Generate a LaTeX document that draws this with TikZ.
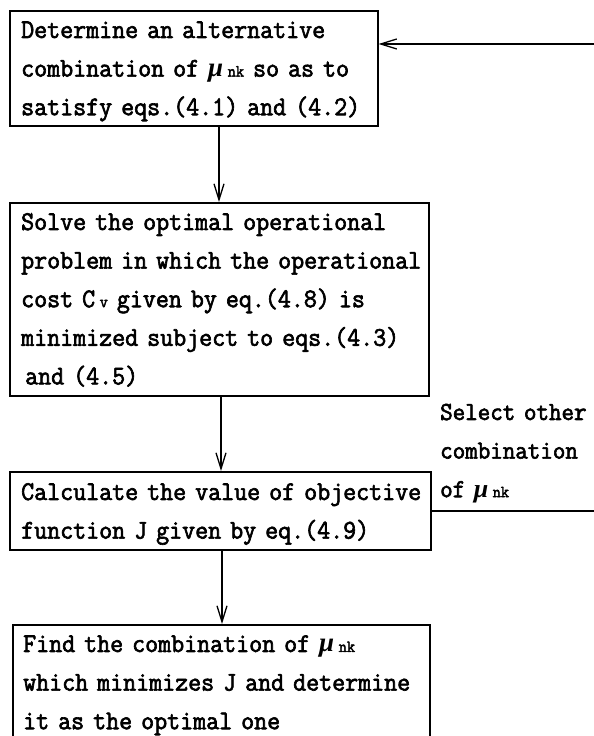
\documentclass[tikz,border=0pt]{standalone}
\usepackage{fontspec}
\usetikzlibrary{arrows.meta}
\newfontfamily\flowfont[FakeBold=2.4,FakeStretch=0.935]{Latin Modern Mono}
\newfontfamily\mufont{Liberation Serif}
\newcommand\munk{{\mufont\bfseries\itshape μ}\,{\fontsize{17}{17}\selectfont nk}}
\newcommand\Cv{C\,{\fontsize{17}{17}\selectfont v}}
\begin{document}
\begin{tikzpicture}[x=1pt,y=1pt,
  flowbox/.style={draw, line width=1.6pt, inner sep=0pt, anchor=north west},
  txt/.style={inner sep=0pt, anchor=base west, text width=460pt, align=left,
    font=\flowfont\fontsize{27}{38.6}\selectfont},
  flow/.style={line width=1.6pt, -{Straight Barb[length=16pt,width=10pt,line width=1.3pt]}}]
\useasboundingbox (0,0) rectangle (594,736);
% process boxes
\node[flowbox, minimum width=368pt, minimum height=115pt] (b1) at (9,726) {};
\node[flowbox, minimum width=419pt, minimum height=193pt] (b2) at (9,534) {};
\node[flowbox, minimum width=421pt, minimum height=78pt]  (b3) at (9,265) {};
\node[flowbox, minimum width=417pt, minimum height=140pt] (b4) at (12,112) {};
% box texts
\node[txt] (t1) at (21,698) {Determine an alternative\\combination of \munk{} so as to\\satisfy eqs.(4.1) and (4.2)};
\node[txt] (t2) at (21,506) {Solve the optimal operational\\problem in which the operational\\cost \Cv{} given by eq.(4.8) is\\minimized subject to eqs.(4.3)\\\hspace*{4pt}and (4.5)};
\node[txt] (t3) at (21,236) {Calculate the value of objective\\function J given by eq.(4.9)};
\node[txt] (t4) at (23,84) {Find the combination of \munk\\which minimizes J and determine\\it as the optimal one};
% loop label
\node[txt, text width=200pt, font=\flowfont\fontsize{26}{38.6}\selectfont] (lbl) at (440,316) {Select other\\combination\\of \munk};
% main flow
\draw[flow] (b1.south -| 219,0) -- (b2.north -| 219,0);
\draw[flow] (b2.south -| 221,0) -- (b3.north -| 221,0);
\draw[flow] (b3.south -| 222,0) -- (b4.north -| 222,0);
% feedback loop back to the first box
\coordinate (fb) at (600,692);
\draw[flow] (b3.east) -- (b3.east -| fb) -- (fb) -- (fb -| b1.east);
\end{tikzpicture}
\end{document}
